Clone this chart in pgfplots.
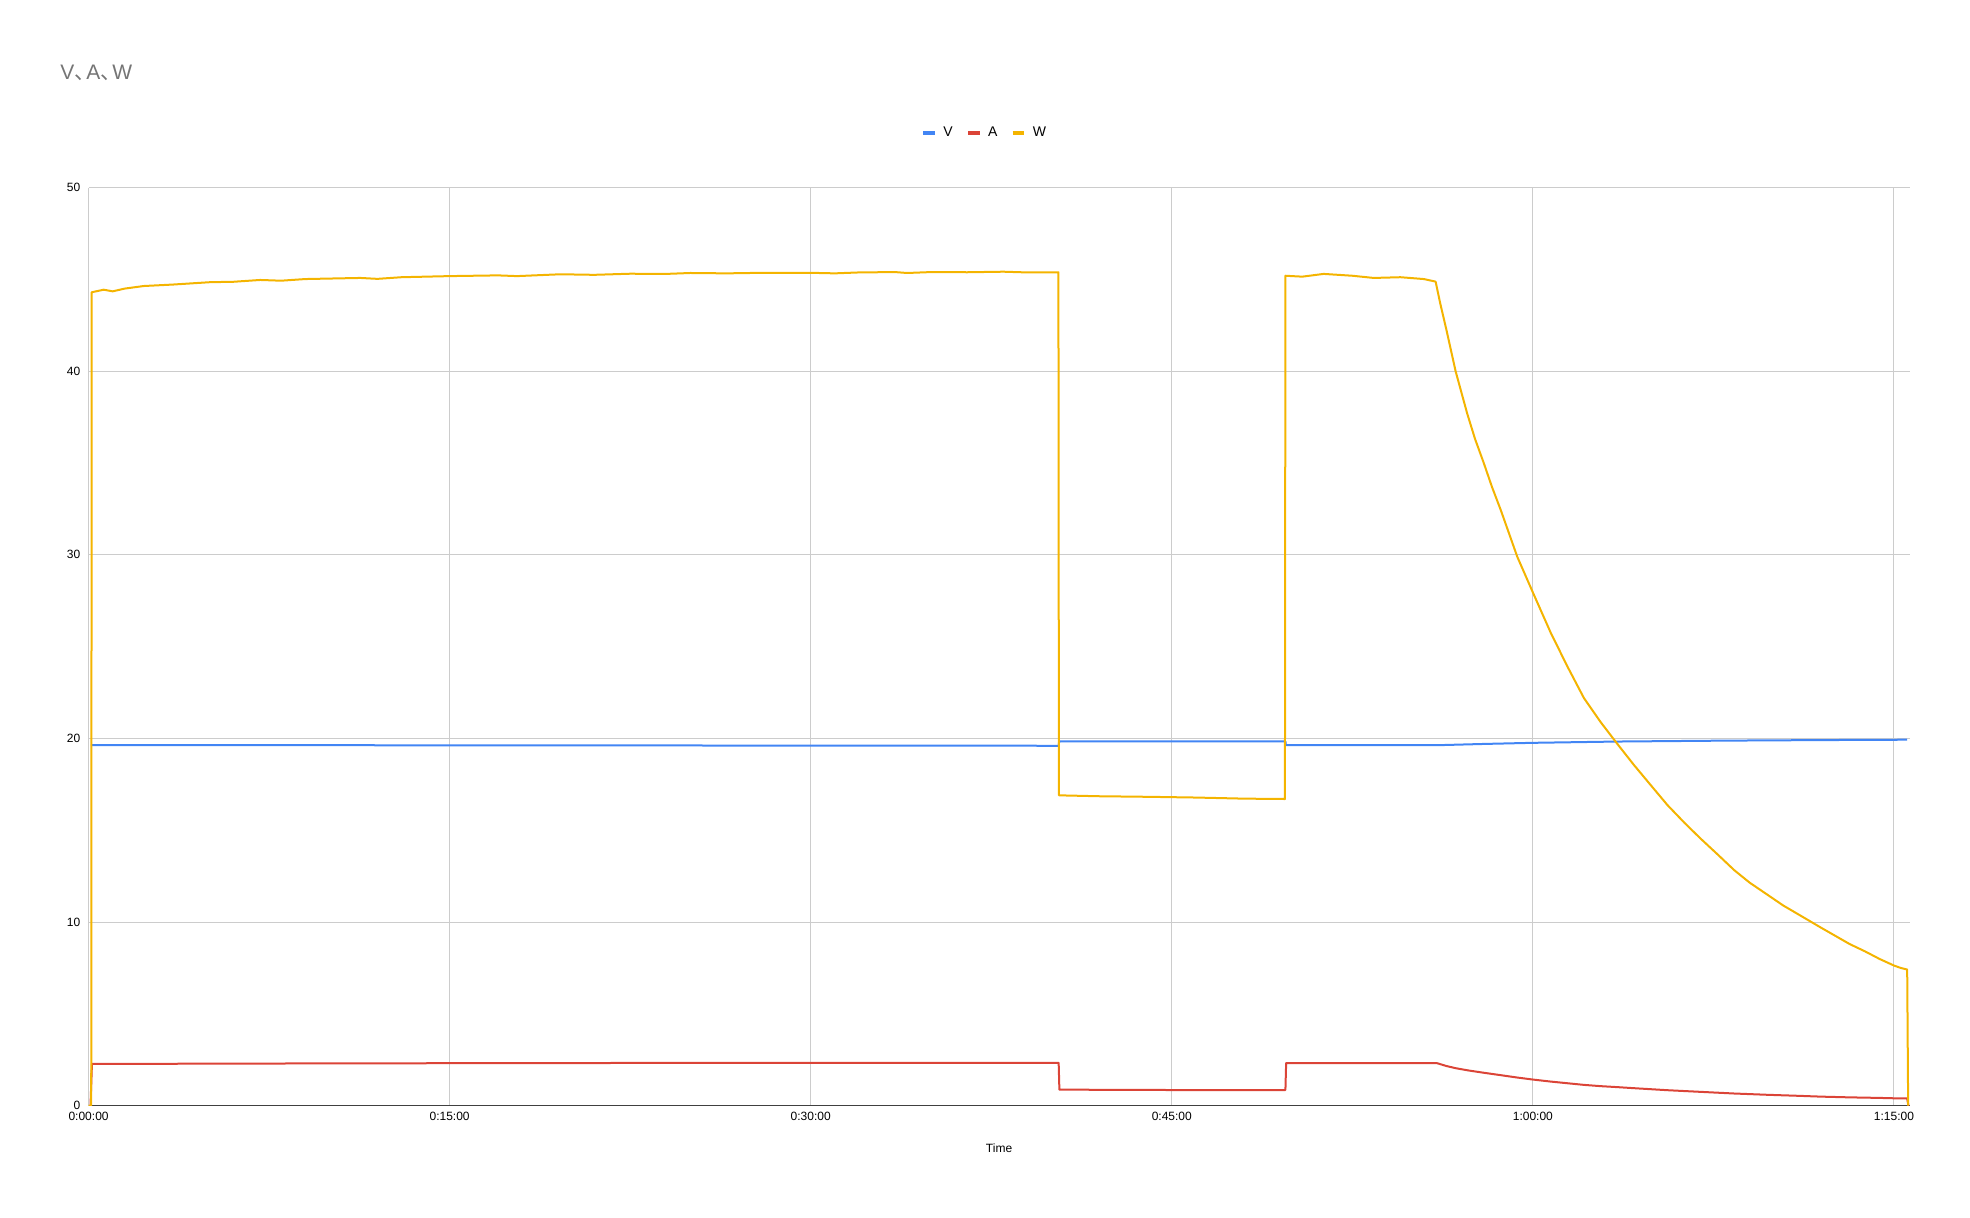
\documentclass[border=0pt]{standalone}
\usepackage{fontspec}
\setmainfont{Liberation Sans}
\newfontfamily\cjk{Noto Sans CJK SC}
\usepackage{pgfplots}
\pgfplotsset{compat=1.18}
\definecolor{gblue}{HTML}{4285F4}
\definecolor{gred}{HTML}{DB4437}
\definecolor{gyellow}{HTML}{F4B400}
\definecolor{gridgray}{HTML}{CCCCCC}
\definecolor{titlegray}{HTML}{757575}
\begin{document}
\begin{tikzpicture}[x=1pt,y=1pt]
\useasboundingbox (0,0) rectangle (985,609);
\node[anchor=base west, text=titlegray, inner sep=0pt, font=\fontsize{10.5}{12}\selectfont] at (30,569) {V\makebox[6pt][l]{\cjk 、}A\makebox[6pt][l]{\cjk 、}W};
\begin{axis}[
  at={(36.8,61.2)}, anchor=origin,
  width=910.5pt, height=459pt, scale only axis,
  xmin=0, xmax=75.65, ymin=0, ymax=50,
  xtick={0,15,30,45,60,75},
  xticklabels={0:00:00,0:15:00,0:30:00,0:45:00,1:00:00,1:15:00},
  ytick={0,10,20,30,40,50},
  /pgf/number format/assume math mode=true,
  grid=major,
  major grid style={draw=gridgray, line width=0.5pt},
  axis line style={draw=none},
  tick style={draw=none},
  extra y ticks={0}, extra y tick labels={},
  extra y tick style={grid=major, major grid style={draw=black!75, line width=0.7pt}},
  ticklabel style={font=\fontsize{6}{7}\selectfont, text=black},
  xticklabel style={anchor=north, inner sep=0pt, yshift=-3pt},
  yticklabel style={anchor=east, inner sep=0pt, xshift=-4pt},
  xlabel={Time},
  every axis x label/.style={at={(axis description cs:0.5,0)}, yshift=-21.5pt, anchor=center, font=\fontsize{6}{7}\selectfont},
  legend columns=3,
  legend style={at={(0.4926,1.0592)}, anchor=center, draw=none, fill=none, font=\fontsize{7}{8}\selectfont,
    /tikz/every even column/.append style={column sep=4.5pt}},
  legend image code/.code={\draw[#1, line width=2.2pt] (0pt,0pt) -- (5.8pt,0pt); \path (7.6pt,0pt);},
  every axis plot/.append style={line width=1pt, line join=round},
]
\addplot[gblue] coordinates {
(0.10,19.63)(10,19.63)(20,19.62)(30,19.61)(40.30,19.60)(40.32,19.84)(45,19.84)(49.72,19.84)(49.74,19.63)
(53,19.63)(56.0,19.63)(58,19.70)(60,19.76)(63.5,19.83)(68,19.88)(72,19.91)(75.55,19.93)
};
\addlegendentry{V}
\addplot[gred] coordinates {
(0.08,0)(0.14,2.27)(10,2.30)(20,2.32)(30,2.33)(40.30,2.33)(40.33,0.87)(45,0.85)(49.72,0.85)(49.75,2.32)
(56.0,2.32)(56.4,2.16)(56.79,2.04)(57.3,1.92)(57.96,1.79)(58.66,1.66)(59.35,1.53)(60.0,1.42)(60.74,1.31)(61.43,1.22)(62.12,1.13)
(62.82,1.06)(63.48,1.01)(64.2,0.95)(65.59,0.84)(66.97,0.75)(68.36,0.66)(69.74,0.59)(71.13,0.53)(71.96,0.49)
(73.16,0.45)(74.4,0.42)(75.0,0.40)(75.55,0.39)(75.6,0)
};
\addlegendentry{A}
\addplot[gyellow] coordinates {
(0,0)(0.11,0)(0.13,44.30)(0.63,44.44)(1.0,44.35)(1.5,44.50)(2.29,44.64)(3.5,44.72)(5.06,44.85)(6,44.87)
(7.13,44.97)(8,44.93)(9,45.02)(11.29,45.08)(12,45.03)(13,45.12)(15.0,45.18)(17,45.22)(17.8,45.18)(19.6,45.28)
(21,45.25)(22.5,45.31)(24,45.30)(25,45.35)(26.5,45.33)(28,45.36)(30,45.36)(31,45.33)(32,45.38)(33.5,45.40)
(34,45.35)(35,45.40)(36.5,45.39)(38,45.42)(39,45.38)(40.29,45.39)(40.31,16.90)(42,16.85)(44,16.82)(46,16.78)
(48,16.72)(49.70,16.70)(49.72,45.20)(50.42,45.15)(51.31,45.30)(52.5,45.20)(53.39,45.08)(54.5,45.12)(55.47,45.02)
(55.96,44.88)(56.15,43.7)(56.4,42.3)(56.79,40.0)(57.27,37.7)(57.6,36.3)(57.96,35.0)(58.3,33.7)(58.66,32.46)(59.0,31.2)(59.35,29.9)(60.0,27.95)(60.74,25.76)(61.43,23.93)
(62.12,22.2)(62.82,20.88)(63.48,19.75)(64.2,18.55)(64.9,17.45)(65.59,16.37)(66.3,15.4)(66.97,14.54)(67.7,13.65)(68.36,12.83)(69.0,12.15)(69.74,11.49)(70.4,10.9)(71.13,10.34)
(71.96,9.70)(72.6,9.22)(73.16,8.80)(73.8,8.4)(74.4,7.99)(75.0,7.63)(75.28,7.50)(75.55,7.41)(75.59,0)
};
\addlegendentry{W}
\end{axis}
\end{tikzpicture}
\end{document}
